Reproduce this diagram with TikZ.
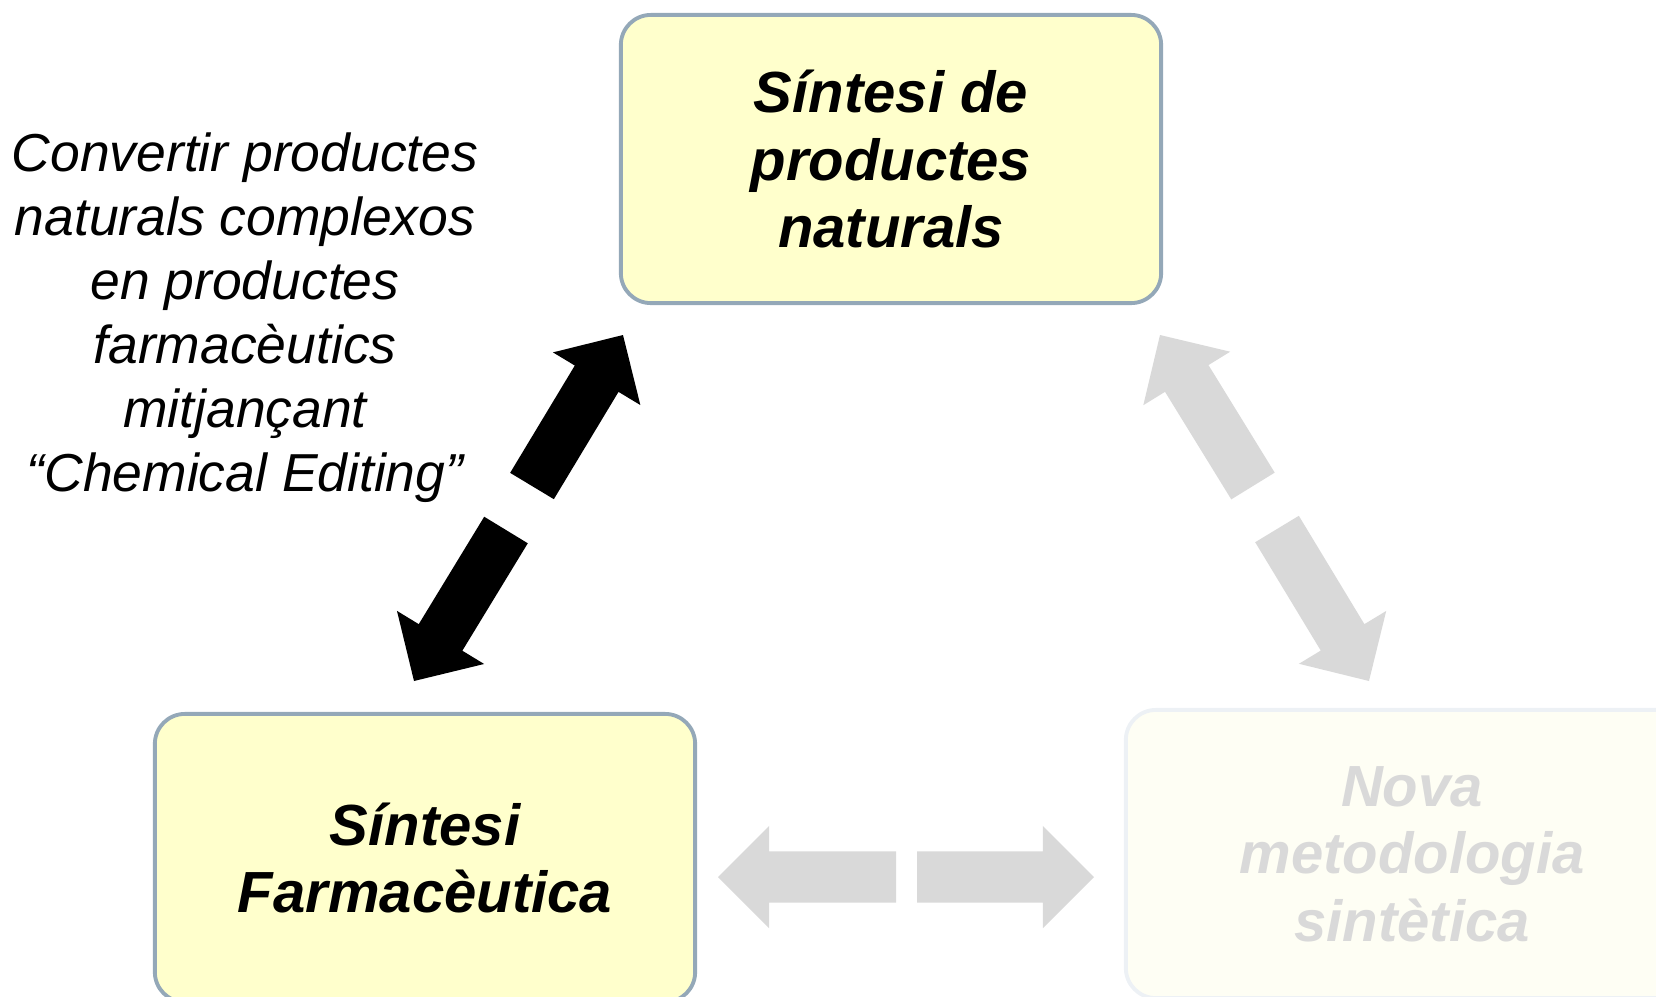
\documentclass[tikz,border=0pt]{standalone}
\usepackage{fontspec}
\setmainfont{Liberation Sans}
\usetikzlibrary{calc, positioning}

\definecolor{boxfill}{HTML}{FFFFCC}
\definecolor{boxline}{HTML}{94A8B8}
\definecolor{fadefill}{HTML}{FEFEF4}
\definecolor{fadeline}{HTML}{EDF1F5}
\definecolor{fadegray}{HTML}{D9D9D9}

% fat block arrow from a base coordinate to a tip coordinate
\newcommand{\blockarrow}[3]{%
  \path ($(#3)!5.1mm!(#2)$) coordinate (neck);
  \fill[#1] ($(#2)!2.55mm!90:(#3)$) -- ($(neck)!2.55mm!90:(#3)$) -- ($(neck)!5.1mm!90:(#3)$)
    -- (#3) -- ($(neck)!5.1mm!-90:(#3)$) -- ($(neck)!2.55mm!-90:(#3)$) -- ($(#2)!2.55mm!-90:(#3)$) -- cycle;
}

\begin{document}
\begin{tikzpicture}[
    x=0.01cm, y=-0.01cm,
    topic/.style={rectangle, rounded corners=3mm, minimum width=5.4cm, minimum height=2.88cm, draw=boxline, fill=boxfill, line width=1.1pt, align=center, font=\fontsize{16.5}{19.2}\selectfont\bfseries\itshape},
    faded/.style={topic, draw=fadeline, fill=fadefill, text=fadegray, minimum width=5.72cm},
    note/.style={align=center, font=\fontsize{15.2}{18.2}\selectfont\itshape},
    active/.style={fill=black},
    inactive/.style={fill=fadegray}
]
\useasboundingbox (0,0) rectangle (1656,996);

% --- Boxes ---
\node (natural) [topic] at (891,159) {Síntesi de\\productes\\naturals};
\node (pharma) [topic] at (425,858) {Síntesi\\Farmacèutica};
\node (method) [faded] at (1412,854) {Nova\\metodologia\\sintètica};

% --- Side note ---
\node (editing) [note] at (245,318) {Convertir productes\\naturals complexos\\en productes\\farmacèutics\\mitjançant\\“Chemical Editing”};

% --- Arrow ends ---
\coordinate (np_base) at (532,486);
\coordinate (np_tip) at (623,335);
\coordinate (pn_base) at (506,530);
\coordinate (pn_tip) at (414,681);
\coordinate (nm_base) at (1277,529);
\coordinate (nm_tip) at (1369,681);
\coordinate (mn_base) at (1253,486);
\coordinate (mn_tip) at (1160,335);
\coordinate (pm_base) at (917,877);
\coordinate (pm_tip) at (1094,877);
\coordinate (mp_base) at (896,877);
\coordinate (mp_tip) at (718,877);

% --- Arrows ---
\blockarrow{active}{np_base}{np_tip}
\blockarrow{active}{pn_base}{pn_tip}
\blockarrow{inactive}{nm_base}{nm_tip}
\blockarrow{inactive}{mn_base}{mn_tip}
\blockarrow{inactive}{pm_base}{pm_tip}
\blockarrow{inactive}{mp_base}{mp_tip}

\end{tikzpicture}
\end{document}
